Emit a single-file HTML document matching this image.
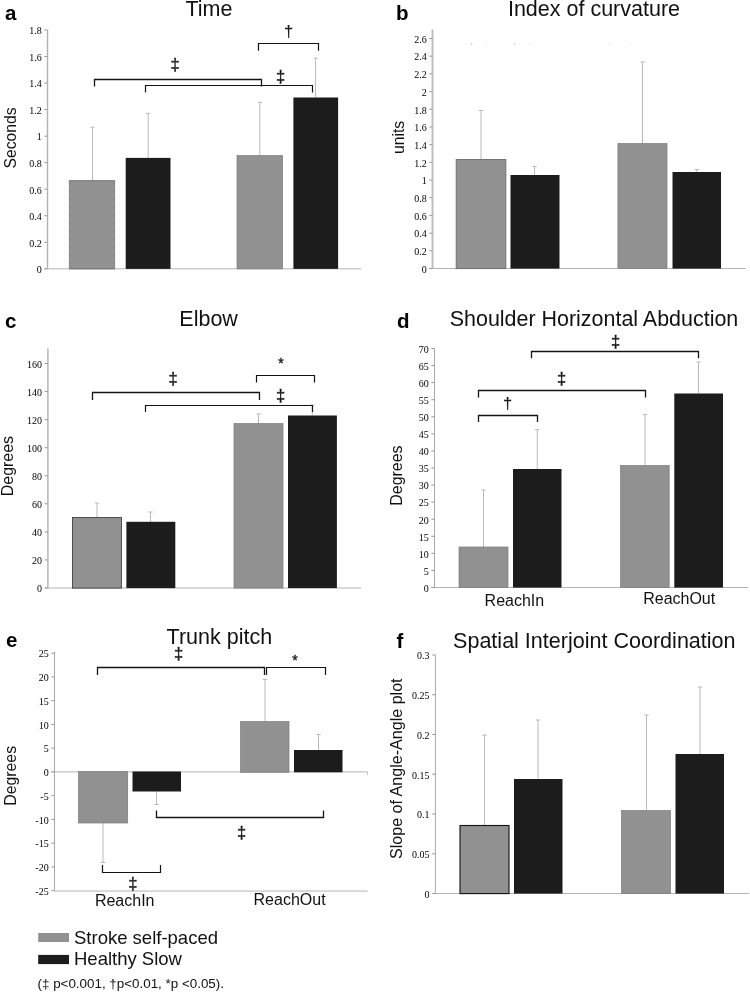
<!DOCTYPE html>
<html><head><meta charset="utf-8"><title>Figure</title>
<style>
html,body{margin:0;padding:0;background:#fff}
svg{display:block}
.er{stroke:#bababa;stroke-width:1;fill:none}
.br{stroke:#141414;fill:none}
.tk{font-family:"Liberation Serif",serif;text-anchor:end;fill:#000}
.ti{font-family:"Liberation Sans",sans-serif;text-anchor:middle;fill:#111}
.lt{font-family:"Liberation Sans",sans-serif;font-weight:bold;fill:#000}
.yl{font-family:"Liberation Sans",sans-serif;text-anchor:middle;fill:#111}
.xl{font-family:"Liberation Sans",sans-serif;text-anchor:middle;fill:#111}
.lg{font-family:"Liberation Sans",sans-serif;fill:#111}
.sym{font-family:"Liberation Sans",sans-serif;text-anchor:middle;fill:#1a1a1a;stroke:#1a1a1a;stroke-width:0.4}
</style></head><body>
<svg width="750" height="992" viewBox="0 0 750 992">
<rect width="750" height="992" fill="#fff"/>
<g id="panel-a">
<path d="M47.5 30V268.8" stroke="#b2b2b2" stroke-width="1.4" fill="none"/>
<path d="M44.5 268.8H361" stroke="#b4b4b4" stroke-width="1" fill="none"/>
<path d="M44.3 268.80H47.5" stroke="#9a9a9a" stroke-width="1" fill="none"/>
<text x="41.70" y="273.10" class="tk" font-size="10">0</text>
<path d="M44.3 242.27H47.5" stroke="#9a9a9a" stroke-width="1" fill="none"/>
<text x="41.70" y="246.57" class="tk" font-size="10">0.2</text>
<path d="M44.3 215.73H47.5" stroke="#9a9a9a" stroke-width="1" fill="none"/>
<text x="41.70" y="220.03" class="tk" font-size="10">0.4</text>
<path d="M44.3 189.20H47.5" stroke="#9a9a9a" stroke-width="1" fill="none"/>
<text x="41.70" y="193.50" class="tk" font-size="10">0.6</text>
<path d="M44.3 162.67H47.5" stroke="#9a9a9a" stroke-width="1" fill="none"/>
<text x="41.70" y="166.97" class="tk" font-size="10">0.8</text>
<path d="M44.3 136.13H47.5" stroke="#9a9a9a" stroke-width="1" fill="none"/>
<text x="41.70" y="140.43" class="tk" font-size="10">1</text>
<path d="M44.3 109.60H47.5" stroke="#9a9a9a" stroke-width="1" fill="none"/>
<text x="41.70" y="113.90" class="tk" font-size="10">1.2</text>
<path d="M44.3 83.07H47.5" stroke="#9a9a9a" stroke-width="1" fill="none"/>
<text x="41.70" y="87.37" class="tk" font-size="10">1.4</text>
<path d="M44.3 56.53H47.5" stroke="#9a9a9a" stroke-width="1" fill="none"/>
<text x="41.70" y="60.83" class="tk" font-size="10">1.6</text>
<path d="M44.3 30.00H47.5" stroke="#9a9a9a" stroke-width="1" fill="none"/>
<text x="41.70" y="34.30" class="tk" font-size="10">1.8</text>
<path d="M92.5 180.7V127.2M90.3 127.2H94.7" class="er"/>
<path d="M148.2 157.9V113.3M146.0 113.3H150.39999999999998" class="er"/>
<path d="M259.8 155.5V102.3M257.6 102.3H262.0" class="er"/>
<path d="M315.6 97.5V58.2M313.40000000000003 58.2H317.8" class="er"/>
<rect x="69.30" y="180.70" width="45.40" height="88.20" fill="#919191"/>
<path d="M69.30 180.70V268.90M114.70 180.70V268.90" stroke="#4a4a4a" stroke-width="0.9" stroke-dasharray="1 1" fill="none"/>
<path d="M69.30 180.70H114.70M69.30 268.90H114.70" stroke="#6a6a6a" stroke-width="0.9" fill="none"/>
<rect x="125.70" y="157.90" width="44.80" height="111.00" fill="#1c1c1c"/>
<rect x="237.00" y="155.50" width="45.50" height="113.40" fill="#919191" stroke="#7c7c7c" stroke-width="0.7"/>
<rect x="293.40" y="97.50" width="44.70" height="171.40" fill="#1c1c1c"/>
<path d="M258.5 50.8V43.5H318.5V50.8" class="br" stroke-width="1.2"/>
<text x="288.5" y="37" class="sym" font-size="16.5" style="stroke-width:0.15">†</text>
<path d="M94.5 86.5V79.5H261.5V86.5" class="br" stroke-width="1.3"/>
<text x="175" y="70.3" class="sym" font-size="16.5">‡</text>
<path d="M145.5 92.6V85.5H312.5V92.6" class="br" stroke-width="1.2"/>
<text x="280.5" y="81.7" class="sym" font-size="16.5">‡</text>
<text x="209" y="16" class="ti" font-size="21.5">Time</text>
<text x="5" y="20" class="lt" font-size="20.5">a</text>
<text transform="translate(16.1 138) rotate(-90)" class="yl" font-size="16.5" textLength="61" lengthAdjust="spacingAndGlyphs">Seconds</text>
</g>
<g id="panel-b">
<path d="M432.5 29.6V268.5" stroke="#bdbdbd" stroke-width="1.9" fill="none"/>
<path d="M429.5 268.5H745.6" stroke="#b4b4b4" stroke-width="1" fill="none"/>
<path d="M429.3 268.50H432.5" stroke="#9a9a9a" stroke-width="1" fill="none"/>
<text x="426.70" y="272.80" class="tk" font-size="10">0</text>
<path d="M429.3 250.81H432.5" stroke="#9a9a9a" stroke-width="1" fill="none"/>
<text x="426.70" y="255.11" class="tk" font-size="10">0.2</text>
<path d="M429.3 233.12H432.5" stroke="#9a9a9a" stroke-width="1" fill="none"/>
<text x="426.70" y="237.42" class="tk" font-size="10">0.4</text>
<path d="M429.3 215.42H432.5" stroke="#9a9a9a" stroke-width="1" fill="none"/>
<text x="426.70" y="219.72" class="tk" font-size="10">0.6</text>
<path d="M429.3 197.73H432.5" stroke="#9a9a9a" stroke-width="1" fill="none"/>
<text x="426.70" y="202.03" class="tk" font-size="10">0.8</text>
<path d="M429.3 180.04H432.5" stroke="#9a9a9a" stroke-width="1" fill="none"/>
<text x="426.70" y="184.34" class="tk" font-size="10">1</text>
<path d="M429.3 162.35H432.5" stroke="#9a9a9a" stroke-width="1" fill="none"/>
<text x="426.70" y="166.65" class="tk" font-size="10">1.2</text>
<path d="M429.3 144.65H432.5" stroke="#9a9a9a" stroke-width="1" fill="none"/>
<text x="426.70" y="148.95" class="tk" font-size="10">1.4</text>
<path d="M429.3 126.96H432.5" stroke="#9a9a9a" stroke-width="1" fill="none"/>
<text x="426.70" y="131.26" class="tk" font-size="10">1.6</text>
<path d="M429.3 109.27H432.5" stroke="#9a9a9a" stroke-width="1" fill="none"/>
<text x="426.70" y="113.57" class="tk" font-size="10">1.8</text>
<path d="M429.3 91.58H432.5" stroke="#9a9a9a" stroke-width="1" fill="none"/>
<text x="426.70" y="95.88" class="tk" font-size="10">2</text>
<path d="M429.3 73.88H432.5" stroke="#9a9a9a" stroke-width="1" fill="none"/>
<text x="426.70" y="78.18" class="tk" font-size="10">2.2</text>
<path d="M429.3 56.19H432.5" stroke="#9a9a9a" stroke-width="1" fill="none"/>
<text x="426.70" y="60.49" class="tk" font-size="10">2.4</text>
<path d="M429.3 38.50H432.5" stroke="#9a9a9a" stroke-width="1" fill="none"/>
<text x="426.70" y="42.80" class="tk" font-size="10">2.6</text>
<path d="M481 159.5V110.5M478.8 110.5H483.2" class="er"/>
<path d="M534.5 175V166.5M532.3 166.5H536.7" class="er"/>
<path d="M642.5 143.5V62M640.3 62H644.7" class="er"/>
<path d="M696.8 172V169.5M694.5999999999999 169.5H699.0" class="er"/>
<rect x="456.00" y="159.50" width="50.00" height="109.10" fill="#919191"/>
<path d="M456.00 159.50V268.60M506.00 159.50V268.60" stroke="#4a4a4a" stroke-width="0.9" stroke-dasharray="1 1" fill="none"/>
<path d="M456.00 159.50H506.00M456.00 268.60H506.00" stroke="#6a6a6a" stroke-width="0.9" fill="none"/>
<rect x="510.50" y="175.00" width="49.00" height="93.60" fill="#1c1c1c"/>
<rect x="617.90" y="143.50" width="49.10" height="125.10" fill="#919191" stroke="#7c7c7c" stroke-width="0.7"/>
<rect x="672.50" y="172.00" width="48.50" height="96.60" fill="#1c1c1c"/>
<circle cx="471.7" cy="44.2" r="0.6" fill="#555" opacity="0.55"/>
<circle cx="485.5" cy="44.2" r="0.6" fill="#555" opacity="0.2"/>
<circle cx="514.7" cy="44.2" r="0.6" fill="#555" opacity="0.5"/>
<circle cx="529.6" cy="44.2" r="0.6" fill="#555" opacity="0.2"/>
<circle cx="609.8" cy="44.2" r="0.6" fill="#555" opacity="0.18"/>
<circle cx="630.4" cy="44.2" r="0.6" fill="#555" opacity="0.18"/>
<text x="594.0" y="16.2" class="ti" font-size="21.5">Index of curvature</text>
<text x="396" y="20" class="lt" font-size="20.5">b</text>
<text transform="translate(404.2 137.5) rotate(-90)" class="yl" font-size="16.5" textLength="33.2" lengthAdjust="spacingAndGlyphs">units</text>
</g>
<g id="panel-c">
<path d="M47.9 348.5V588" stroke="#b2b2b2" stroke-width="1.4" fill="none"/>
<path d="M44.9 588H361" stroke="#b4b4b4" stroke-width="1" fill="none"/>
<path d="M44.699999999999996 588.00H47.9" stroke="#9a9a9a" stroke-width="1" fill="none"/>
<text x="42.10" y="592.30" class="tk" font-size="10">0</text>
<path d="M44.699999999999996 559.94H47.9" stroke="#9a9a9a" stroke-width="1" fill="none"/>
<text x="42.10" y="564.24" class="tk" font-size="10">20</text>
<path d="M44.699999999999996 531.88H47.9" stroke="#9a9a9a" stroke-width="1" fill="none"/>
<text x="42.10" y="536.17" class="tk" font-size="10">40</text>
<path d="M44.699999999999996 503.81H47.9" stroke="#9a9a9a" stroke-width="1" fill="none"/>
<text x="42.10" y="508.11" class="tk" font-size="10">60</text>
<path d="M44.699999999999996 475.75H47.9" stroke="#9a9a9a" stroke-width="1" fill="none"/>
<text x="42.10" y="480.05" class="tk" font-size="10">80</text>
<path d="M44.699999999999996 447.69H47.9" stroke="#9a9a9a" stroke-width="1" fill="none"/>
<text x="42.10" y="451.99" class="tk" font-size="10">100</text>
<path d="M44.699999999999996 419.62H47.9" stroke="#9a9a9a" stroke-width="1" fill="none"/>
<text x="42.10" y="423.93" class="tk" font-size="10">120</text>
<path d="M44.699999999999996 391.56H47.9" stroke="#9a9a9a" stroke-width="1" fill="none"/>
<text x="42.10" y="395.86" class="tk" font-size="10">140</text>
<path d="M44.699999999999996 363.50H47.9" stroke="#9a9a9a" stroke-width="1" fill="none"/>
<text x="42.10" y="367.80" class="tk" font-size="10">160</text>
<path d="M97 517.5V503M94.8 503H99.2" class="er"/>
<path d="M150.5 522V512M148.3 512H152.7" class="er"/>
<path d="M258.5 423.5V414M256.3 414H260.7" class="er"/>
<path d="M312.3 415.5V405M310.1 405H314.5" class="er"/>
<rect x="72.50" y="517.50" width="49.00" height="70.60" fill="#919191" stroke="#333" stroke-width="0.8"/>
<rect x="126.40" y="521.80" width="48.90" height="66.30" fill="#1c1c1c"/>
<rect x="234.00" y="423.50" width="49.00" height="164.60" fill="#919191" stroke="#7c7c7c" stroke-width="0.7"/>
<rect x="288.00" y="415.50" width="48.90" height="172.60" fill="#1c1c1c"/>
<path d="M256.5 382.5V375.5H314.5V382.5" class="br" stroke-width="1.2"/>
<text x="281" y="368" class="sym" font-size="14">*</text>
<path d="M92.5 400V392.5H259.5V400" class="br" stroke-width="1.3"/>
<text x="173" y="384" class="sym" font-size="16.5">‡</text>
<path d="M145.5 412V405.5H312.5V412" class="br" stroke-width="1.2"/>
<text x="280.5" y="401" class="sym" font-size="16.5">‡</text>
<text x="208.6" y="325.6" class="ti" font-size="21.5">Elbow</text>
<text x="5" y="327.5" class="lt" font-size="20.5">c</text>
<text transform="translate(12.6 466.1) rotate(-90)" class="yl" font-size="16.5" textLength="60.2" lengthAdjust="spacingAndGlyphs">Degrees</text>
</g>
<g id="panel-d">
<path d="M434.5 348.5V587.5" stroke="#aaa" stroke-width="1" fill="none"/>
<path d="M431.5 587.5H748" stroke="#b4b4b4" stroke-width="1" fill="none"/>
<path d="M431.3 587.50H434.5" stroke="#9a9a9a" stroke-width="1" fill="none"/>
<text x="428.70" y="591.80" class="tk" font-size="10">0</text>
<path d="M431.3 570.43H434.5" stroke="#9a9a9a" stroke-width="1" fill="none"/>
<text x="428.70" y="574.73" class="tk" font-size="10">5</text>
<path d="M431.3 553.36H434.5" stroke="#9a9a9a" stroke-width="1" fill="none"/>
<text x="428.70" y="557.66" class="tk" font-size="10">10</text>
<path d="M431.3 536.29H434.5" stroke="#9a9a9a" stroke-width="1" fill="none"/>
<text x="428.70" y="540.59" class="tk" font-size="10">15</text>
<path d="M431.3 519.21H434.5" stroke="#9a9a9a" stroke-width="1" fill="none"/>
<text x="428.70" y="523.51" class="tk" font-size="10">20</text>
<path d="M431.3 502.14H434.5" stroke="#9a9a9a" stroke-width="1" fill="none"/>
<text x="428.70" y="506.44" class="tk" font-size="10">25</text>
<path d="M431.3 485.07H434.5" stroke="#9a9a9a" stroke-width="1" fill="none"/>
<text x="428.70" y="489.37" class="tk" font-size="10">30</text>
<path d="M431.3 468.00H434.5" stroke="#9a9a9a" stroke-width="1" fill="none"/>
<text x="428.70" y="472.30" class="tk" font-size="10">35</text>
<path d="M431.3 450.93H434.5" stroke="#9a9a9a" stroke-width="1" fill="none"/>
<text x="428.70" y="455.23" class="tk" font-size="10">40</text>
<path d="M431.3 433.86H434.5" stroke="#9a9a9a" stroke-width="1" fill="none"/>
<text x="428.70" y="438.16" class="tk" font-size="10">45</text>
<path d="M431.3 416.79H434.5" stroke="#9a9a9a" stroke-width="1" fill="none"/>
<text x="428.70" y="421.09" class="tk" font-size="10">50</text>
<path d="M431.3 399.71H434.5" stroke="#9a9a9a" stroke-width="1" fill="none"/>
<text x="428.70" y="404.01" class="tk" font-size="10">55</text>
<path d="M431.3 382.64H434.5" stroke="#9a9a9a" stroke-width="1" fill="none"/>
<text x="428.70" y="386.94" class="tk" font-size="10">60</text>
<path d="M431.3 365.57H434.5" stroke="#9a9a9a" stroke-width="1" fill="none"/>
<text x="428.70" y="369.87" class="tk" font-size="10">65</text>
<path d="M431.3 348.50H434.5" stroke="#9a9a9a" stroke-width="1" fill="none"/>
<text x="428.70" y="352.80" class="tk" font-size="10">70</text>
<path d="M483.5 547V490M481.3 490H485.7" class="er"/>
<path d="M537.3 469V429.5M535.0999999999999 429.5H539.5" class="er"/>
<path d="M645 465.5V414.5M642.8 414.5H647.2" class="er"/>
<path d="M698.5 393.5V362M696.3 362H700.7" class="er"/>
<rect x="459.00" y="547.00" width="49.00" height="40.60" fill="#919191" stroke="#7c7c7c" stroke-width="0.7"/>
<rect x="513.00" y="469.00" width="48.50" height="118.60" fill="#1c1c1c"/>
<rect x="620.50" y="465.50" width="48.70" height="122.10" fill="#919191" stroke="#7c7c7c" stroke-width="0.7"/>
<rect x="674.30" y="393.50" width="48.70" height="194.10" fill="#1c1c1c"/>
<path d="M531.5 358.3V351.5H698.5V358.3" class="br" stroke-width="1.3"/>
<text x="615.5" y="347.2" class="sym" font-size="16.5">‡</text>
<path d="M478.5 397.5V390.5H645.5V397.5" class="br" stroke-width="1.3"/>
<text x="561.5" y="384" class="sym" font-size="16.5">‡</text>
<path d="M478.5 422V415.5H537.5V422" class="br" stroke-width="1.3"/>
<text x="507.7" y="409" class="sym" font-size="16.5" style="stroke-width:0.15">†</text>
<text x="594" y="325.6" class="ti" font-size="21.5" textLength="288.5" lengthAdjust="spacingAndGlyphs">Shoulder Horizontal Abduction</text>
<text x="397" y="327.5" class="lt" font-size="20.5">d</text>
<text transform="translate(401.7 475.6) rotate(-90)" class="yl" font-size="16.5" textLength="60.2" lengthAdjust="spacingAndGlyphs">Degrees</text>
<text x="514.4" y="605.6" class="xl" font-size="16">ReachIn</text>
<text x="679.2" y="603.7" class="xl" font-size="16">ReachOut</text>
</g>
<g id="panel-e">
<path d="M54.5 651.8V890.65" stroke="#aaa" stroke-width="1" fill="none"/>
<path d="M51.5 771.9H367.5" stroke="#b4b4b4" stroke-width="1" fill="none"/>
<path d="M51.3 890.65H54.5" stroke="#9a9a9a" stroke-width="1" fill="none"/>
<text x="48.70" y="894.95" class="tk" font-size="10">-25</text>
<path d="M51.3 866.90H54.5" stroke="#9a9a9a" stroke-width="1" fill="none"/>
<text x="48.70" y="871.20" class="tk" font-size="10">-20</text>
<path d="M51.3 843.15H54.5" stroke="#9a9a9a" stroke-width="1" fill="none"/>
<text x="48.70" y="847.45" class="tk" font-size="10">-15</text>
<path d="M51.3 819.40H54.5" stroke="#9a9a9a" stroke-width="1" fill="none"/>
<text x="48.70" y="823.70" class="tk" font-size="10">-10</text>
<path d="M51.3 795.65H54.5" stroke="#9a9a9a" stroke-width="1" fill="none"/>
<text x="48.70" y="799.95" class="tk" font-size="10">-5</text>
<path d="M51.3 771.90H54.5" stroke="#9a9a9a" stroke-width="1" fill="none"/>
<text x="48.70" y="776.20" class="tk" font-size="10">0</text>
<path d="M51.3 748.15H54.5" stroke="#9a9a9a" stroke-width="1" fill="none"/>
<text x="48.70" y="752.45" class="tk" font-size="10">5</text>
<path d="M51.3 724.40H54.5" stroke="#9a9a9a" stroke-width="1" fill="none"/>
<text x="48.70" y="728.70" class="tk" font-size="10">10</text>
<path d="M51.3 700.65H54.5" stroke="#9a9a9a" stroke-width="1" fill="none"/>
<text x="48.70" y="704.95" class="tk" font-size="10">15</text>
<path d="M51.3 676.90H54.5" stroke="#9a9a9a" stroke-width="1" fill="none"/>
<text x="48.70" y="681.20" class="tk" font-size="10">20</text>
<path d="M51.3 653.15H54.5" stroke="#9a9a9a" stroke-width="1" fill="none"/>
<text x="48.70" y="657.45" class="tk" font-size="10">25</text>
<path d="M54.5 891.05H367.5" stroke="#b4b4b4" stroke-width="1" fill="none"/>
<path d="M367.5 771.9V774.9" stroke="#c4c4c4" stroke-width="1" fill="none"/>
<path d="M103 823V862.5M100.8 862.5H105.2" class="er"/>
<path d="M156.5 791.5V804.5M154.3 804.5H158.7" class="er"/>
<path d="M265 721.5V679.5M262.8 679.5H267.2" class="er"/>
<path d="M318.5 750V734.5M316.3 734.5H320.7" class="er"/>
<rect x="78.50" y="771.50" width="49.20" height="51.50" fill="#919191" stroke="#7c7c7c" stroke-width="0.7"/>
<rect x="132.50" y="771.50" width="48.50" height="20.00" fill="#1c1c1c"/>
<rect x="240.50" y="721.50" width="48.50" height="50.80" fill="#919191" stroke="#7c7c7c" stroke-width="0.7"/>
<rect x="294.00" y="750.00" width="48.50" height="22.30" fill="#1c1c1c"/>
<path d="M97.5 675V667.5H264.5V675" class="br" stroke-width="1.3"/>
<text x="178.5" y="659" class="sym" font-size="16.5">‡</text>
<path d="M266.5 675V667.5H325.5V675" class="br" stroke-width="1.2"/>
<text x="295" y="665" class="sym" font-size="14">*</text>
<path d="M156.5 810.5V817.5H323.5V810.5" class="br" stroke-width="1.3"/>
<text x="241.5" y="838" class="sym" font-size="16.5">‡</text>
<path d="M102.5 865V872.5H160.5V865" class="br" stroke-width="1.2"/>
<text x="132.8" y="888.5" class="sym" font-size="16.5">‡</text>
<text x="219.4" y="644.3" class="ti" font-size="21.5">Trunk pitch</text>
<text x="6" y="646.5" class="lt" font-size="20.5">e</text>
<text transform="translate(16.1 775.8) rotate(-90)" class="yl" font-size="16.5" textLength="59.7" lengthAdjust="spacingAndGlyphs">Degrees</text>
<text x="124.7" y="905.9" class="xl" font-size="16">ReachIn</text>
<text x="289.6" y="904.6" class="xl" font-size="16">ReachOut</text>
</g>
<g id="legend">
<rect x="38.2" y="933" width="30.8" height="9" fill="#919191"/>
<rect x="38.2" y="954.9" width="30.8" height="9.2" fill="#1c1c1c"/>
<text x="74" y="944" class="lg" font-size="18.5">Stroke self-paced</text>
<text x="74" y="964.7" class="lg" font-size="18.5">Healthy Slow</text>
<text x="37.5" y="988" class="lg" font-size="13.4">(‡ p&lt;0.001, †p&lt;0.01, *p &lt;0.05).</text>
</g>
<g id="panel-f">
<path d="M435.4 655V893.5" stroke="#aaa" stroke-width="1" fill="none"/>
<path d="M432.4 893.5H749" stroke="#b4b4b4" stroke-width="1" fill="none"/>
<path d="M432.2 893.50H435.4" stroke="#9a9a9a" stroke-width="1" fill="none"/>
<text x="429.60" y="897.80" class="tk" font-size="10">0</text>
<path d="M432.2 853.75H435.4" stroke="#9a9a9a" stroke-width="1" fill="none"/>
<text x="429.60" y="858.05" class="tk" font-size="10">0.05</text>
<path d="M432.2 814.00H435.4" stroke="#9a9a9a" stroke-width="1" fill="none"/>
<text x="429.60" y="818.30" class="tk" font-size="10">0.1</text>
<path d="M432.2 774.25H435.4" stroke="#9a9a9a" stroke-width="1" fill="none"/>
<text x="429.60" y="778.55" class="tk" font-size="10">0.15</text>
<path d="M432.2 734.50H435.4" stroke="#9a9a9a" stroke-width="1" fill="none"/>
<text x="429.60" y="738.80" class="tk" font-size="10">0.2</text>
<path d="M432.2 694.75H435.4" stroke="#9a9a9a" stroke-width="1" fill="none"/>
<text x="429.60" y="699.05" class="tk" font-size="10">0.25</text>
<path d="M432.2 655.00H435.4" stroke="#9a9a9a" stroke-width="1" fill="none"/>
<text x="429.60" y="659.30" class="tk" font-size="10">0.3</text>
<path d="M484.5 825.5V735M482.3 735H486.7" class="er"/>
<path d="M538 779V720M535.8 720H540.2" class="er"/>
<path d="M646.5 810.5V715M644.3 715H648.7" class="er"/>
<path d="M700 754V687M697.8 687H702.2" class="er"/>
<rect x="460.00" y="825.50" width="49.00" height="68.10" fill="#919191" stroke="#111" stroke-width="1.1"/>
<rect x="514.00" y="779.00" width="48.50" height="114.60" fill="#1c1c1c"/>
<rect x="621.50" y="810.50" width="49.00" height="83.10" fill="#919191" stroke="#7c7c7c" stroke-width="0.7"/>
<rect x="675.50" y="754.00" width="48.50" height="139.60" fill="#1c1c1c"/>
<text x="594.3" y="647.7" class="ti" font-size="21.5" textLength="282.5" lengthAdjust="spacingAndGlyphs">Spatial Interjoint Coordination</text>
<text x="396.5" y="647.5" class="lt" font-size="20.5">f</text>
<text transform="translate(401.8 768.7) rotate(-90)" class="yl" font-size="16.5" textLength="180.5" lengthAdjust="spacingAndGlyphs">Slope of Angle-Angle plot</text>
</g>
</svg>
</body></html>
